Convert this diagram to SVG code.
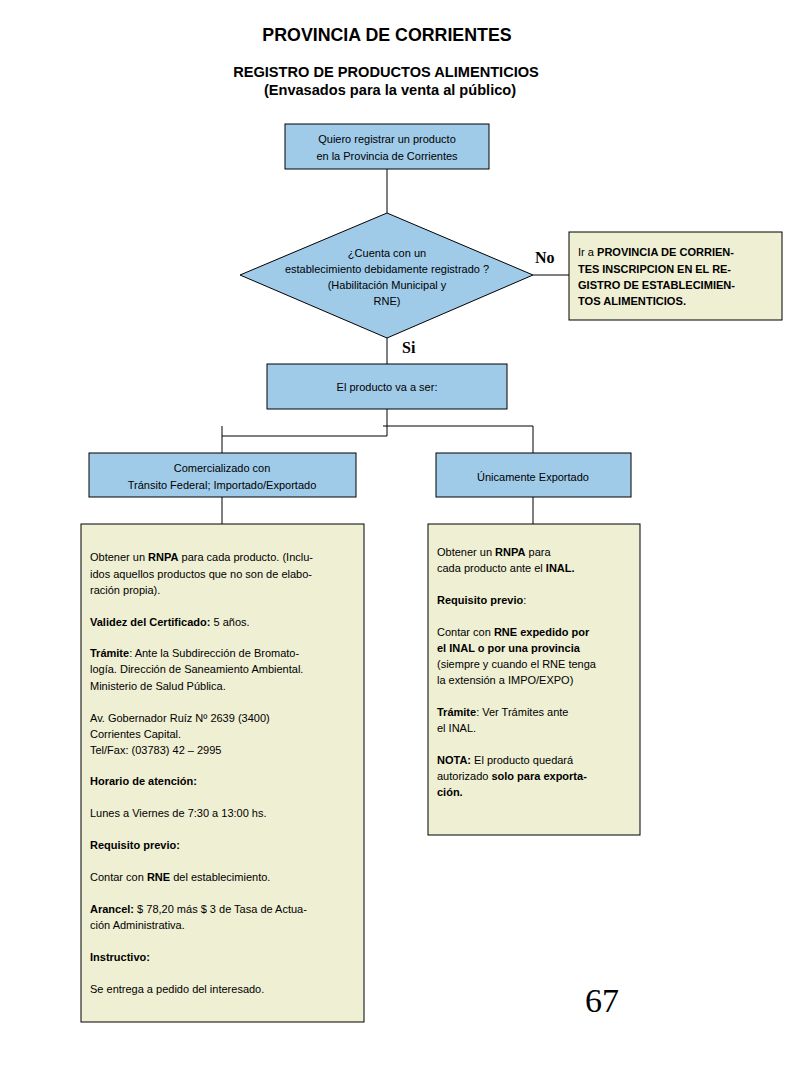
<svg xmlns="http://www.w3.org/2000/svg" width="800" height="1066" viewBox="0 0 800 1066">
<style>
.t{font-family:"Liberation Sans",Arial,sans-serif;font-size:11px;fill:#000}
.c{text-anchor:middle}
.b{font-weight:bold}
.blue{fill:#9fcbe9;stroke:#000;stroke-width:1}
.beige{fill:#efefd3;stroke:#000;stroke-width:1}
.ln{stroke:#000;stroke-width:1;fill:none}
.lab{font-family:"Liberation Serif","Times New Roman",serif;font-weight:bold;font-size:16px}
</style>
<rect width="800" height="1066" fill="#fff"/>
<g id="titles">
<text x="387" y="41" class="t c b" style="font-size:17.8px">PROVINCIA DE CORRIENTES</text>
<text x="386" y="77" class="t c b" style="font-size:14.6px">REGISTRO DE PRODUCTOS ALIMENTICIOS</text>
<text x="390" y="95" class="t c b" style="font-size:14.6px">(Envasados para la venta al público)</text>
</g>
<g id="connectors">
<path class="ln" d="M387 169V213M533 275H570M387 338V364M387 409V436H222M222 426V453M383 426H533V453M222 497V524M533 497V524"/>
<text x="535" y="263" class="lab">No</text>
<text x="402" y="353" class="lab">Si</text>
</g>
<g id="start">
<rect x="285" y="124" width="204" height="45" class="blue"/>
<text x="387" y="143" class="t c">Quiero registrar un producto</text>
<text x="387" y="160" class="t c">en la Provincia de Corrientes</text>
</g>
<g id="decision">
<polygon points="387,213 533,275 387,338 240,275" class="blue"/>
<text x="387" y="257" class="t c">¿Cuenta con un</text>
<text x="387" y="273" class="t c">establecimiento debidamente registrado ?</text>
<text x="387" y="289" class="t c">(Habilitación Municipal y</text>
<text x="387" y="305" class="t c">RNE)</text>
</g>
<g id="no-box">
<rect x="569" y="232" width="213" height="88" class="beige"/>
<text x="578" y="256" class="t" textLength="156" lengthAdjust="spacingAndGlyphs">Ir a <tspan class="b">PROVINCIA DE CORRIEN-</tspan></text>
<text x="578" y="273" class="t b" textLength="153" lengthAdjust="spacingAndGlyphs">TES INSCRIPCION EN EL RE-</text>
<text x="578" y="289" class="t b" textLength="157" lengthAdjust="spacingAndGlyphs">GISTRO DE ESTABLECIMIEN-</text>
<text x="578" y="305" class="t b" textLength="108" lengthAdjust="spacingAndGlyphs">TOS ALIMENTICIOS.</text>
</g>
<g id="producto">
<rect x="267" y="364" width="240" height="45" class="blue"/>
<text x="387" y="391" class="t c">El producto va a ser:</text>
</g>
<g id="comercializado">
<rect x="89" y="453" width="267" height="44" class="blue"/>
<text x="222" y="472" class="t c">Comercializado con</text>
<text x="222" y="489" class="t c">Tránsito Federal; Importado/Exportado</text>
</g>
<g id="exportado">
<rect x="436" y="453" width="195" height="44" class="blue"/>
<text x="533" y="481" class="t c">Únicamente Exportado</text>
</g>
<g id="left-info">
<rect x="81" y="524" width="283" height="498" class="beige"/>
<text x="90" y="561" class="t">Obtener un <tspan class="b">RNPA</tspan> para cada producto. (Inclu-</text>
<text x="90" y="578" class="t">idos aquellos productos que no son de elabo-</text>
<text x="90" y="594" class="t">ración propia).</text>
<text x="90" y="626" class="t"><tspan class="b">Validez del Certificado:</tspan> 5 años.</text>
<text x="90" y="657" class="t"><tspan class="b">Trámite</tspan>:  Ante la Subdirección de Bromato-</text>
<text x="90" y="673" class="t">logía. Dirección de Saneamiento Ambiental.</text>
<text x="90" y="690" class="t">Ministerio de Salud Pública.</text>
<text x="90" y="722" class="t">Av. Gobernador Ruíz Nº 2639 (3400)</text>
<text x="90" y="738" class="t">Corrientes Capital.</text>
<text x="90" y="754" class="t">Tel/Fax: (03783) 42 – 2995</text>
<text x="90" y="785" class="t b">Horario de atención:</text>
<text x="90" y="817" class="t">Lunes a Viernes de 7:30 a 13:00 hs.</text>
<text x="90" y="849" class="t b">Requisito previo:</text>
<text x="90" y="881" class="t">Contar con <tspan class="b">RNE</tspan> del establecimiento.</text>
<text x="90" y="913" class="t"><tspan class="b">Arancel:</tspan> $ 78,20 más $ 3 de Tasa de Actua-</text>
<text x="90" y="929" class="t">ción Administrativa.</text>
<text x="90" y="961" class="t b">Instructivo:</text>
<text x="90" y="993" class="t">Se entrega a pedido del interesado.</text>
</g>
<g id="right-info">
<rect x="428" y="524" width="212" height="311" class="beige"/>
<text x="437" y="556" class="t">Obtener un  <tspan class="b">RNPA</tspan> para</text>
<text x="437" y="572" class="t">cada producto ante el <tspan class="b">INAL.</tspan></text>
<text x="437" y="604" class="t"><tspan class="b">Requisito previo</tspan>:</text>
<text x="437" y="636" class="t">Contar con <tspan class="b">RNE expedido por</tspan></text>
<text x="437" y="652" class="t b">el INAL o por una provincia</text>
<text x="437" y="668" class="t">(siempre y cuando el RNE tenga</text>
<text x="437" y="684" class="t"> la extensión a IMPO/EXPO)</text>
<text x="437" y="716" class="t"><tspan class="b">Trámite</tspan>: Ver Trámites ante</text>
<text x="437" y="732" class="t"> el INAL.</text>
<text x="437" y="764" class="t"><tspan class="b">NOTA:</tspan> El producto quedará</text>
<text x="437" y="780" class="t">autorizado <tspan class="b">solo para exporta-</tspan></text>
<text x="437" y="796" class="t b">ción.</text>
</g>
<text x="585" y="1012" style="font-family:'Liberation Serif','Times New Roman',serif;font-size:34px">67</text>
</svg>
